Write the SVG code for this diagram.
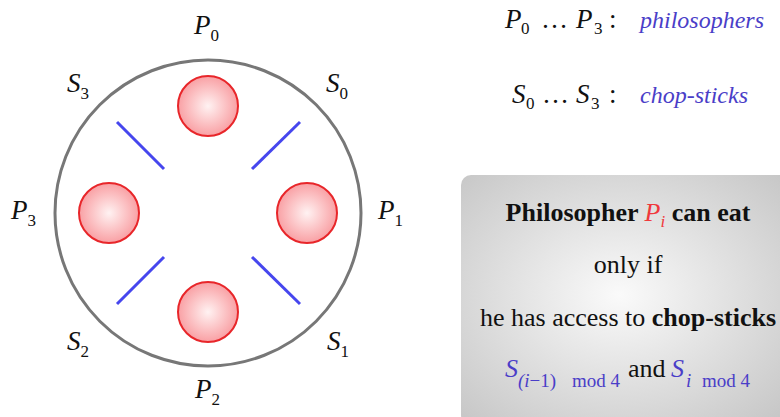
<svg xmlns="http://www.w3.org/2000/svg" width="780" height="417" viewBox="0 0 780 417" font-family="Liberation Serif">
<defs>
<radialGradient id="phil" cx="0.5" cy="0.5" r="0.5">
<stop offset="0" stop-color="#fff2f2"/>
<stop offset="1" stop-color="#f9a0a4"/>
</radialGradient>
<radialGradient id="box" cx="0.48" cy="0.48" r="0.7">
<stop offset="0" stop-color="#fafafa"/>
<stop offset="1" stop-color="#c6c6c6"/>
</radialGradient>
</defs>
<style>
.ph{fill:url(#phil);stroke:#e8262a;stroke-width:2}
.st{stroke:#4646ee;stroke-width:3;fill:none}
.lb{font-style:italic;font-size:27px;fill:#111}
.sub{font-style:normal;font-size:17px}
.t{font-size:26px;fill:#111}
.b{font-weight:bold}
.blue{fill:#4a3ec8}
.red{fill:#f0383c}
.s19{font-size:19px}
</style>
<circle cx="208" cy="213" r="153" fill="#fff" stroke="#777" stroke-width="3"/>
<g id="P0"><circle class="ph" cx="208" cy="106" r="30"/><text class="lb" x="194" y="34">P<tspan class="sub" dy="7">0</tspan></text></g>
<g id="P1"><circle class="ph" cx="307" cy="213" r="30"/><text class="lb" x="378" y="219">P<tspan class="sub" dy="7">1</tspan></text></g>
<g id="P2"><circle class="ph" cx="208" cy="312" r="30"/><text class="lb" x="195" y="398">P<tspan class="sub" dy="7">2</tspan></text></g>
<g id="P3"><circle class="ph" cx="109" cy="213" r="30"/><text class="lb" x="11" y="219">P<tspan class="sub" dy="7">3</tspan></text></g>
<g id="S0"><line class="st" x1="300" y1="122" x2="252" y2="169"/><text class="lb" x="326" y="92">S<tspan class="sub" dy="7">0</tspan></text></g>
<g id="S1"><line class="st" x1="252" y1="257" x2="300" y2="304"/><text class="lb" x="327" y="350">S<tspan class="sub" dy="7">1</tspan></text></g>
<g id="S2"><line class="st" x1="164" y1="257" x2="117" y2="304"/><text class="lb" x="67" y="350">S<tspan class="sub" dy="7">2</tspan></text></g>
<g id="S3"><line class="st" x1="117" y1="122" x2="164" y2="169"/><text class="lb" x="67" y="92">S<tspan class="sub" dy="7">3</tspan></text></g>
<g id="connectors"></g>
<g id="legend">
<text class="lb" x="505" y="28">P<tspan class="sub" x="521" dy="6">0</tspan><tspan x="541" dy="-6" font-style="normal">…</tspan><tspan x="576">P</tspan><tspan class="sub" x="594" dy="6">3</tspan><tspan x="609" dy="-6" font-style="normal">:</tspan></text>
<text class="lb blue" x="640" y="28" style="font-size:24px">philosophers</text>
<text class="lb" x="512" y="103">S<tspan class="sub" x="526" dy="6">0</tspan><tspan x="542" dy="-6" font-style="normal">…</tspan><tspan x="576">S</tspan><tspan class="sub" x="591" dy="6">3</tspan><tspan x="609" dy="-6" font-style="normal">:</tspan></text>
<text class="lb blue" x="640" y="103" style="font-size:24px">chop-sticks</text>
</g>
<g id="rule">
<rect x="461" y="175" width="330" height="250" rx="10" fill="url(#box)"/>
<text class="t" x="628" y="221" text-anchor="middle"><tspan class="b">Philosopher </tspan><tspan class="red" font-style="italic">P</tspan><tspan class="red" font-style="italic" font-size="17" dy="6">i</tspan><tspan class="b" dy="-6"> can eat</tspan></text>
<text class="t" x="628" y="273" text-anchor="middle">only if</text>
<text class="t" x="628" y="326" text-anchor="middle">he has access to <tspan class="b">chop-sticks</tspan></text>
<text class="t" x="505" y="377"><tspan class="blue" font-style="italic">S</tspan><tspan class="blue s19" x="518" dy="10"><tspan font-style="italic">(i</tspan>−1)</tspan><tspan class="blue s19" x="572">mod 4</tspan><tspan x="628" dy="-10">and</tspan><tspan class="blue" x="671" font-style="italic">S</tspan><tspan class="blue s19" x="686" dy="10" font-style="italic">i</tspan><tspan class="blue s19" x="702">mod 4</tspan></text>
</g>
</svg>
